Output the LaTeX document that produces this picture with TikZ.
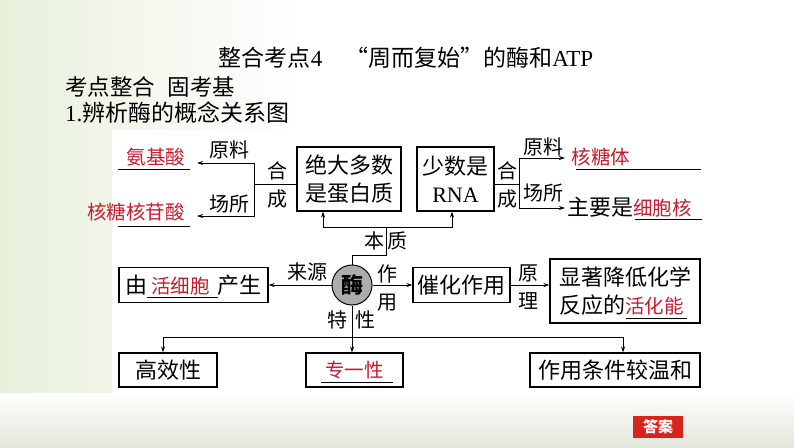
\documentclass[tikz,border=0pt]{standalone}
\usepackage{fontspec}
\setmainfont{Liberation Serif}
\newfontfamily\cjk{Noto Sans CJK SC}
\usepackage{xcolor}
\usetikzlibrary{arrows.meta, positioning}
\definecolor{ansred}{RGB}{200,28,45}
\definecolor{btnred}{RGB}{214,38,28}
\definecolor{enzgray}{RGB}{172,172,172}
\definecolor{bgleaf}{RGB}{232,240,220}
\definecolor{bggray}{RGB}{226,230,218}
\newcommand{\sz}[1]{\fontsize{#1}{28}\selectfont}

\begin{document}
\begin{tikzpicture}[
    x=1pt, y=-1pt,
    box/.style={rectangle, draw=black, line width=1.1pt, fill=white, inner sep=0pt, align=center, font=\cjk\sz{22}},
    lbl/.style={inner sep=0pt, align=center, font=\cjk\sz{20}},
    fillin/.style={inner sep=0pt, text=ansred, font=\cjk\sz{19.5}},
    enz/.style={circle, draw=black, line width=1pt, fill=enzgray, minimum size=40pt, inner sep=0pt, font=\cjk\bfseries\sz{22}},
    conn/.style={line width=0.9pt, black},
    arrow/.style={conn, -{Stealth[length=6pt, width=4pt]}},
    blank/.style={line width=0.9pt, black}
]
\useasboundingbox (0,0) rectangle (794,447);

% Slide background
\fill[white] (0,0) rectangle (794,447);
\shade[left color=bgleaf, right color=white] (0,0) rectangle (300,447);
\shade[top color=white, bottom color=bggray] (0,393) rectangle (794,447);
\fill[white] (112,130) rectangle (708,393);

% Headings
\node[font=\cjk\sz{23}] (title) at (406,58) {整合考点{\rmfamily 4}\hspace{1em}“周而复始”的酶和{\rmfamily ATP}};
\node[font=\cjk\sz{22.5}, anchor=west, inner sep=0pt] (head) at (65,87) {考点整合\hspace{0.55em}固考基};
\node[font=\cjk\sz{23}, anchor=west, inner sep=0pt] (sub) at (65,113) {{\rmfamily 1.}辨析酶的概念关系图};

% Chemical nature
\node[box, minimum width=104pt, minimum height=64pt] (protein) at (349,179) {绝大多数\\是蛋白质};
\node[box, minimum width=77pt, minimum height=64pt] (rna) at (455.5,179) {少数是\\{\rmfamily RNA}};

\node[fillin] (amino) at (156,157) {氨基酸};
\node[fillin] (nucleo) at (136,212) {核糖核苷酸};
\node[fillin] (ribo) at (601,157) {核糖体};
\node[font=\cjk\sz{22}, anchor=west, inner sep=0pt] (nucleus) at (567,207) {主要是\textcolor{ansred}{\sz{19.5}细胞核}};

\node[lbl] (raw1) at (229,150) {原料};
\node[lbl] (place1) at (229,204) {场所};
\node[lbl] (syn1) at (277,185) {合\\成};
\node[lbl] (raw2) at (543,147) {原料};
\node[lbl] (place2) at (543,193) {场所};
\node[lbl] (syn2) at (507,185) {合\\成};

% Enzyme and its relations
\node[enz] (enzyme) at (352,285) {酶};
\node[lbl] (ess1) at (374,241) {本};
\node[lbl] (ess2) at (397,241) {质};
\node[lbl] (src) at (307,272) {来源};
\node[lbl] (func) at (387,288) {作\\用};
\node[lbl] (prin) at (528,287) {原\\理};
\node[lbl] (feat1) at (337,320) {特};
\node[lbl] (feat2) at (365,320) {性};

\node[box, minimum width=149pt, minimum height=35pt] (origin) at (193.5,285) {由\hspace{4pt}\textcolor{ansred}{\sz{19.5}活细胞}\hspace{8pt}产生};
\node[box, minimum width=97pt, minimum height=35pt] (catal) at (461.5,285) {催化作用};
\node[box, minimum width=150pt, minimum height=64pt, align=left] (lower) at (625,291) {显著降低化学\\反应的\textcolor{ansred}{\sz{19.5}活化能}};

% Characteristics
\node[box, minimum width=98pt, minimum height=34pt] (eff) at (168,370) {高效性};
\node[box, minimum width=97pt, minimum height=34pt] (spec) at (354.5,370) {\textcolor{ansred}{\sz{19.5}专一性}};
\node[box, minimum width=170pt, minimum height=34pt] (mild) at (615,370) {作用条件较温和};

\node[fill=btnred, text=white, minimum width=50pt, minimum height=22pt, inner sep=0pt, font=\cjk\bfseries\sz{15}] (answer) at (658,427) {答案};

% Blanks
\draw[blank] (118,169) -- (190,169);
\draw[blank] (118,226) -- (190,226);
\draw[blank] (576,169) -- (701,169);
\draw[blank] (635,219) -- (702,219);
\draw[blank] (147,297) -- (218,297);
\draw[blank] (626,318) -- (687,318);
\draw[blank] (321,382) -- (393,382);

% Junctions
\coordinate (ls) at (254,184);
\coordinate (rs) at (519,184);
\coordinate (tipa) at (197,163);
\coordinate (tipb) at (197,216);
\coordinate (tipc) at (565,158);
\coordinate (tipd) at (565,208);
\coordinate (ebend) at (352,255);
\coordinate (es) at (386,227);
\coordinate (fs) at (352,337);

% Connectors
\draw[conn] (ls -| protein.west) -- (ls);
\draw[arrow] (ls) |- (tipa);
\draw[arrow] (ls) |- (tipb);
\draw[conn] (rs -| rna.east) -- (rs);
\draw[arrow] (rs) |- (tipc);
\draw[arrow] (rs) |- (tipd);

\draw[conn] (enzyme.north) -- (ebend) -| (es);
\draw[arrow] (es) -| ([xshift=-26pt]protein.south);
\draw[arrow] (es) -| ([xshift=-3.5pt]rna.south);

\draw[arrow] (enzyme) -- (origin);
\draw[arrow] (enzyme) -- (catal);
\draw[arrow] (catal.east) -- (catal.east -| lower.west);

\draw[conn] (enzyme.south) -- (fs);
\draw[arrow] (fs) -| ([xshift=-5pt]eff.north);
\draw[arrow] (fs) -- (fs |- spec.north);
\draw[arrow] (fs) -| ([xshift=8pt]mild.north);

\end{tikzpicture}
\end{document}
